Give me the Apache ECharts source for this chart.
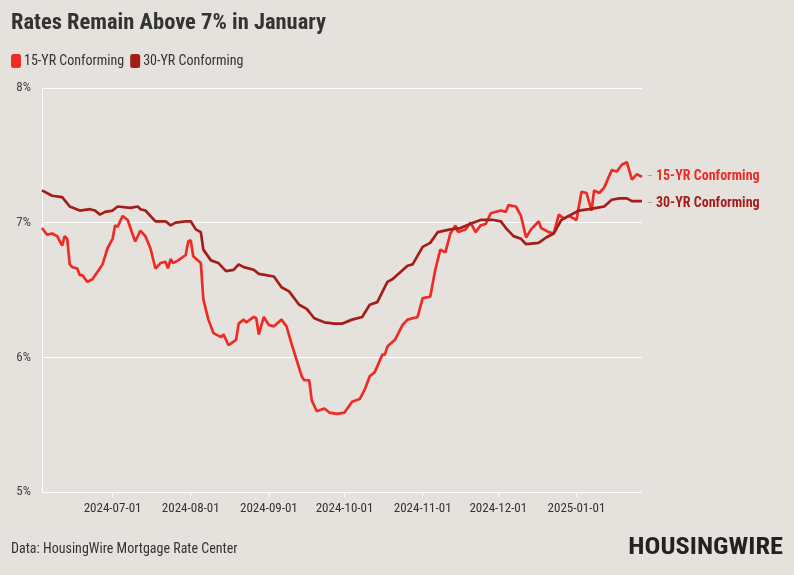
<!DOCTYPE html>
<html>
<head>
<meta charset="utf-8">
<script src="https://cdn.jsdelivr.net/npm/echarts@6/dist/echarts.min.js"></script>
<style>
html,body{margin:0;padding:0;background:#e5e2de;}
#chart{width:794px;height:575px;}
</style>
</head>
<body>
<div id="chart"></div>
<script>
// ---- Data ----
const seriesNames = ['15-YR Conforming', '30-YR Conforming'];
const tickDates = ['2024-07-01','2024-08-01','2024-09-01','2024-10-01','2024-11-01','2024-12-01','2025-01-01'];
const startDate = '2024-06-03';
const endDate = '2025-01-27';

const dates15 = ['2024-06-03','2024-06-05','2024-06-07','2024-06-09','2024-06-11','2024-06-12','2024-06-13','2024-06-14','2024-06-15','2024-06-17','2024-06-18','2024-06-19','2024-06-21','2024-06-23','2024-06-27','2024-06-29','2024-07-01','2024-07-02','2024-07-03','2024-07-05','2024-07-07','2024-07-09','2024-07-10','2024-07-12','2024-07-14','2024-07-16','2024-07-18','2024-07-20','2024-07-22','2024-07-23','2024-07-24','2024-07-25','2024-07-27','2024-07-30','2024-07-31','2024-08-01','2024-08-02','2024-08-05','2024-08-06','2024-08-08','2024-08-10','2024-08-13','2024-08-14','2024-08-16','2024-08-19','2024-08-20','2024-08-22','2024-08-23','2024-08-26','2024-08-27','2024-08-28','2024-08-30','2024-09-01','2024-09-03','2024-09-06','2024-09-08','2024-09-10','2024-09-12','2024-09-14','2024-09-15','2024-09-17','2024-09-18','2024-09-20','2024-09-23','2024-09-25','2024-09-28','2024-10-01','2024-10-04','2024-10-07','2024-10-09','2024-10-11','2024-10-13','2024-10-16','2024-10-17','2024-10-18','2024-10-21','2024-10-24','2024-10-26','2024-10-30','2024-11-01','2024-11-04','2024-11-06','2024-11-08','2024-11-10','2024-11-12','2024-11-14','2024-11-15','2024-11-18','2024-11-20','2024-11-22','2024-11-24','2024-11-26','2024-11-28','2024-12-02','2024-12-04','2024-12-05','2024-12-08','2024-12-10','2024-12-12','2024-12-14','2024-12-17','2024-12-18','2024-12-21','2024-12-23','2024-12-25','2024-12-27','2024-12-29','2025-01-01','2025-01-03','2025-01-05','2025-01-07','2025-01-08','2025-01-10','2025-01-12','2025-01-15','2025-01-17','2025-01-19','2025-01-21','2025-01-23','2025-01-25','2025-01-27'];
const rates15 = [6.96,6.91,6.92,6.90,6.83,6.90,6.88,6.69,6.67,6.66,6.61,6.61,6.56,6.58,6.69,6.81,6.88,6.98,6.97,7.05,7.02,6.91,6.86,6.94,6.90,6.81,6.66,6.70,6.71,6.66,6.73,6.70,6.72,6.76,6.86,6.87,6.75,6.70,6.43,6.28,6.18,6.15,6.17,6.09,6.13,6.25,6.28,6.26,6.30,6.29,6.17,6.30,6.24,6.23,6.28,6.23,6.10,5.98,5.86,5.83,5.83,5.68,5.60,5.62,5.59,5.58,5.59,5.67,5.69,5.76,5.86,5.89,6.02,6.02,6.08,6.13,6.24,6.28,6.30,6.44,6.45,6.65,6.80,6.78,6.92,6.98,6.93,6.95,7.00,6.93,6.98,6.99,7.07,7.09,7.08,7.13,7.12,7.05,6.89,6.95,7.01,6.96,6.93,6.92,7.06,7.03,7.05,7.02,7.23,7.22,7.09,7.24,7.22,7.26,7.39,7.38,7.43,7.45,7.32,7.36,7.34];

const dates30 = ['2024-06-03','2024-06-07','2024-06-11','2024-06-14','2024-06-18','2024-06-22','2024-06-24','2024-06-26','2024-06-28','2024-07-01','2024-07-03','2024-07-08','2024-07-11','2024-07-12','2024-07-14','2024-07-18','2024-07-22','2024-07-24','2024-07-26','2024-07-30','2024-08-01','2024-08-03','2024-08-05','2024-08-06','2024-08-09','2024-08-12','2024-08-15','2024-08-18','2024-08-20','2024-08-22','2024-08-26','2024-08-28','2024-09-03','2024-09-06','2024-09-09','2024-09-13','2024-09-16','2024-09-19','2024-09-23','2024-09-27','2024-09-30','2024-10-04','2024-10-08','2024-10-11','2024-10-14','2024-10-18','2024-10-20','2024-10-23','2024-10-26','2024-10-28','2024-11-01','2024-11-04','2024-11-07','2024-11-12','2024-11-16','2024-11-21','2024-11-24','2024-11-29','2024-12-02','2024-12-04','2024-12-06','2024-12-07','2024-12-10','2024-12-12','2024-12-17','2024-12-20','2024-12-23','2024-12-26','2024-12-29','2025-01-02','2025-01-06','2025-01-09','2025-01-12','2025-01-15','2025-01-18','2025-01-21','2025-01-23','2025-01-27'];
const rates30 = [7.24,7.20,7.19,7.12,7.09,7.10,7.09,7.06,7.08,7.09,7.12,7.11,7.12,7.10,7.09,7.01,7.01,6.98,7.00,7.01,7.01,6.95,6.93,6.80,6.72,6.70,6.64,6.65,6.69,6.67,6.65,6.62,6.60,6.52,6.49,6.39,6.36,6.29,6.26,6.25,6.25,6.28,6.30,6.39,6.41,6.56,6.58,6.63,6.68,6.69,6.82,6.85,6.93,6.95,6.96,7.00,7.02,7.02,7.01,6.96,6.92,6.90,6.88,6.84,6.85,6.89,6.92,7.02,7.05,7.09,7.10,7.11,7.12,7.17,7.18,7.18,7.16,7.16];

const colors = ['#ee2b24', '#a51d18'];

// ---- Build axis categories (one per calendar day) ----
function buildDays(a, b) {
  const out = [];
  const d = new Date(a + 'T00:00:00Z');
  const e = new Date(b + 'T00:00:00Z');
  while (d <= e) {
    out.push(d.toISOString().slice(0, 10));
    d.setUTCDate(d.getUTCDate() + 1);
  }
  return out;
}
const days = buildDays(startDate, endDate);
const showTick = (idx, val) => tickDates.indexOf(val) >= 0;

const font = "'Roboto Condensed', Roboto";
const chart = echarts.init(document.getElementById('chart'), null, {renderer: 'canvas'});

function makeSeries(name, dates, rates, color, dy) {
  return {
    name: name,
    type: 'line',
    data: dates.map((d, i) => [d, rates[i]]),
    showSymbol: false,
    symbol: 'none',
    smooth: false,
    lineStyle: {width: 2.7, color: color},
    itemStyle: {color: color},
    endLabel: {
      show: true,
      formatter: p => '{d|–} ' + p.seriesName,
      color: color,
      fontFamily: font,
      fontWeight: 'bold',
      fontSize: 14,
      distance: 5,
      offset: [0, dy],
      rich: {d: {color: '#9a9a9a', fontSize: 10, fontWeight: 'normal'}}
    },
    emphasis: {disabled: true}
  };
}

chart.setOption({
  backgroundColor: '#e5e2de',
  animation: false,
  color: colors,
  textStyle: {fontFamily: font},
  title: {
    text: 'Rates Remain Above 7% in January',
    left: 6, top: 7,
    textStyle: {fontFamily: font, fontSize: 22.5, fontWeight: 'bold', color: '#333'}
  },
  legend: {
    left: 6, top: 49,
    itemWidth: 10, itemHeight: 14, itemGap: 6,
    icon: 'roundRect',
    textStyle: {fontFamily: font, fontSize: 14, color: '#333', padding: [0, 0, 0, -2]},
    data: seriesNames
  },
  grid: {left: 42, right: 152, top: 88, bottom: 83, containLabel: false},
  xAxis: {
    type: 'category',
    data: days,
    boundaryGap: false,
    axisLine: {show: false},
    axisTick: {show: true, interval: showTick, length: 5, lineStyle: {color: '#ffffff', width: 1}},
    axisLabel: {interval: showTick, color: '#333', fontFamily: font, fontSize: 13, margin: 10},
    splitLine: {show: false}
  },
  yAxis: {
    type: 'value',
    min: 5, max: 8, interval: 1,
    axisLine: {show: true, lineStyle: {color: '#ffffff', width: 1}},
    axisTick: {show: false},
    axisLabel: {formatter: '{value}%', color: '#444', fontFamily: font, fontSize: 13, margin: 11},
    splitLine: {show: true, lineStyle: {color: '#ffffff', width: 1}}
  },
  graphic: [
    {type: 'text', x: 11, y: 549, style: {text: 'Data: HousingWire Mortgage Rate Center', fill: '#333', font: '14px ' + font, textVerticalAlign: 'middle'}},
    {type: 'text', x: 783, y: 548, scaleX: 1.1, style: {text: 'HOUSINGWIRE', fill: '#222', font: 'bold 24px ' + font, textAlign: 'right', textVerticalAlign: 'middle'}}
  ],
  series: [
    makeSeries(seriesNames[0], dates15, rates15, colors[0], 0),
    makeSeries(seriesNames[1], dates30, rates30, colors[1], 2)
  ]
});
</script>
</body>
</html>
